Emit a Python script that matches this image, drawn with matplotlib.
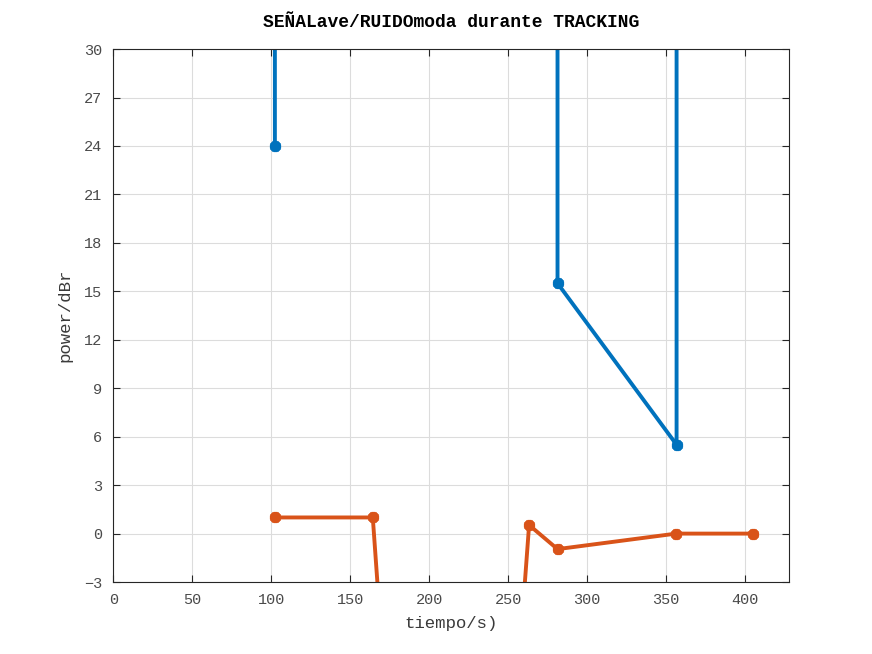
import matplotlib
matplotlib.use("Agg")
import matplotlib.pyplot as plt
import numpy as np

# data (values above 30 / below -3 fall outside the visible window)
t_signal = [102.3, 164.3, 213.0, 263.3, 281.3, 356.7, 405.4]
signal_db = [24.0, 1e6, 1e6, 1e6, 15.5, 5.5, 1e6]
t_noise = [102.3, 164.3, 213.0, 263.3, 281.3, 356.4, 405.4]
noise_db = [1.0, 1.0, -66.0, 0.53, -0.96, 0.0, 0.0]
xticks = list(range(0, 401, 50))
yticks = list(range(-3, 31, 3))

plt.rcParams['font.family'] = ['Liberation Mono', 'DejaVu Sans Mono']

fig = plt.figure(figsize=(8.72, 6.54), dpi=100)
ax = fig.add_axes([0.13, 0.11, 0.775, 0.815])

star = (8, 2, 0)
ax.plot(t_signal, signal_db, color='#0072BD', lw=2.8, marker=star, ms=8, mew=2.6)
ax.plot(t_noise, noise_db, color='#D95319', lw=2.8, marker=star, ms=8, mew=2.6)

ax.set_xlim(0, 428)
ax.set_ylim(-3, 30)
ax.set_xticks(xticks)
ax.set_yticks(yticks)
ax.grid(True, color='#dcdcdc', lw=0.8)
ax.set_axisbelow(True)
ax.tick_params(direction='in', top=True, right=True, labelsize=11, colors='#262626',
               labelcolor='#4a4a4a', length=5, pad=8)
for s in ax.spines.values():
    s.set_color('#262626')
    s.set_linewidth(0.8)

ax.set_xlabel('tiempo/s)', fontsize=12.5, color='#3a3a3a', labelpad=6)
ax.set_ylabel('power/dBr', fontsize=12.5, color='#3a3a3a', labelpad=8)
ax.set_title('SEÑALave/RUIDOmoda durante TRACKING', fontsize=13, fontweight='bold', pad=16)

fig.savefig('out.png', dpi=100)
